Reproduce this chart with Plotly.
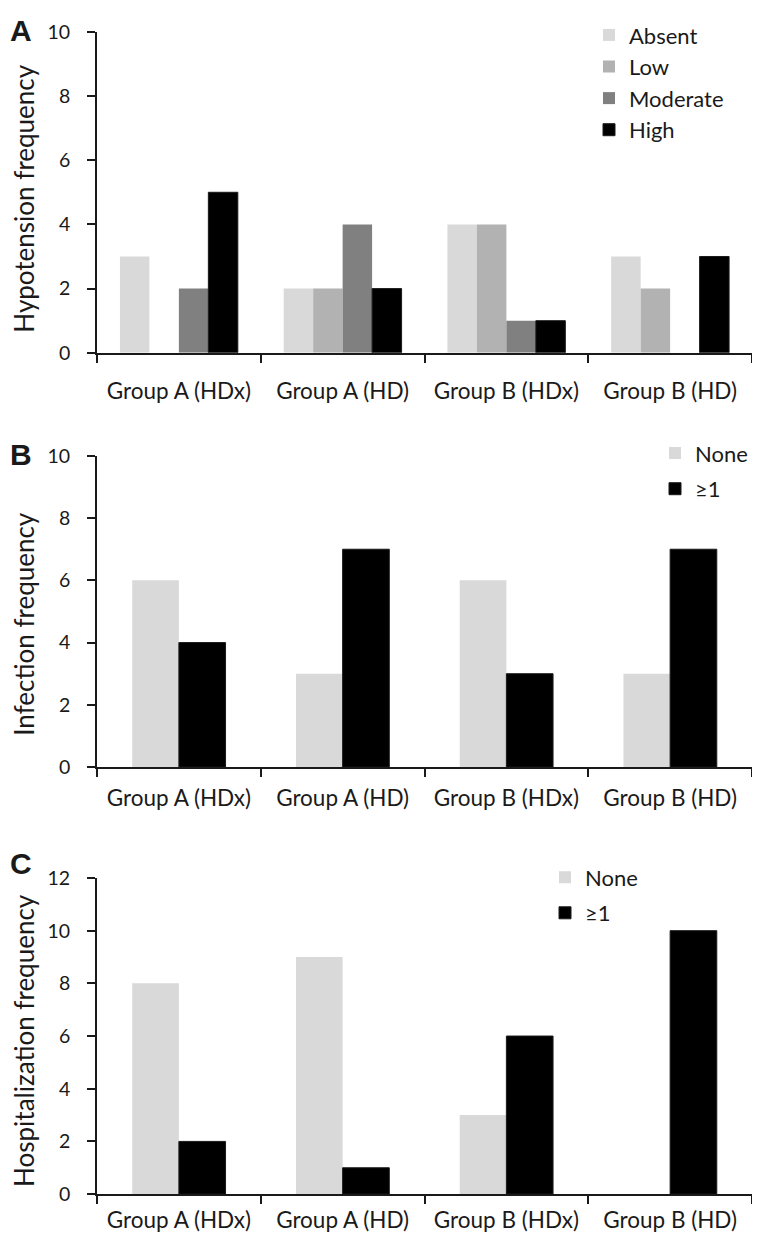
import plotly.graph_objects as go

groups = ["Group A (HDx)", "Group A (HD)", "Group B (HDx)", "Group B (HD)"]

# Panel A: hypotension
hypo_absent = [3, 2, 4, 3]
hypo_low = [0, 2, 4, 2]
hypo_moderate = [2, 4, 1, 0]
hypo_high = [5, 2, 1, 3]

# Panel B: infection
inf_none = [6, 3, 6, 3]
inf_one = [4, 7, 3, 7]

# Panel C: hospitalization
hosp_none = [8, 9, 3, 0]
hosp_one = [2, 1, 6, 10]

W, H = 760, 1256
FONT = "Lato, 'Open Sans', sans-serif"
C_ABS, C_LOW, C_MOD, C_HIGH = "#d9d9d9", "#b2b2b2", "#808080", "#000000"
INK = "#1a1a1a"

def py(px):
    return 1 - px / H

def px_(x):
    return x / W

fig = go.Figure()

def bar(x, y, name, color, xa, ya, leg, line=False, width=None, offset=None):
    fig.add_trace(go.Bar(
        x=x, y=y, name=name, xaxis=xa, yaxis=ya, legend=leg, legendgroup=leg + name,
        width=width, offset=offset,
        marker=dict(color=color, line=dict(color=INK if line else color, width=1 if line else 0)),
    ))

bar(groups, hypo_absent, "Absent", C_ABS, "x", "y", "legend")
bar(groups, hypo_low, "Low", C_LOW, "x", "y", "legend")
bar(groups, hypo_moderate, "Moderate", C_MOD, "x", "y", "legend")
bar(groups, hypo_high, "High", C_HIGH, "x", "y", "legend", True)

bar(groups, inf_none, "None", C_ABS, "x2", "y2", "legend2", width=0.285, offset=-0.285)
bar(groups, inf_one, "≥1", C_HIGH, "x2", "y2", "legend2", True, width=0.285, offset=0.0)

bar(groups, hosp_none, "None", C_ABS, "x3", "y3", "legend3", width=0.285, offset=-0.285)
bar(groups, hosp_one, "≥1", C_HIGH, "x3", "y3", "legend3", True, width=0.285, offset=0.0)

xdom = [px_(89), px_(744)]
# (suffix, top px, bottom px, range, x-label standoff, title, title centre y, letter, letter y)
panels = [
    ("", 12, 339, [0, 10], 17, "Hypotension frequency", 182, "A", 11),
    ("2", 444, 761, [0, 10], 10, "Infection frequency", 615, "B", 443),
    ("3", 874, 1196, [0, 12], 5, "Hospitalization frequency", 1040, "C", 859),
]

tick_font = dict(family=FONT, size=19.5, color=INK)
cat_font = dict(family=FONT, size=22.5, color=INK)
layout = dict(
    width=W, height=H, margin=dict(l=0, r=0, t=0, b=0),
    paper_bgcolor="white", plot_bgcolor="white",
    barmode="group", bargap=0.28, showlegend=True,
    font=dict(family=FONT, size=20, color=INK),
)

for s, top, bot, rng, stand, title, ty, letter, ly in panels:
    layout["xaxis" + s] = dict(
        domain=xdom, anchor="y" + s, type="category",
        showline=True, linecolor=INK, linewidth=1.8,
        ticks="outside", ticklen=8, tickwidth=1.8, tickcolor=INK,
        tickson="boundaries", showgrid=False, zeroline=False,
        tickfont=cat_font, ticklabelstandoff=stand,
    )
    layout["yaxis" + s] = dict(
        domain=[py(bot), py(top)], anchor="x" + s, range=rng, dtick=2,
        showline=True, linecolor=INK, linewidth=1.8,
        ticks="outside", ticklen=8, tickwidth=1.8, tickcolor=INK,
        showgrid=False, zeroline=False, tickfont=tick_font, ticklabelstandoff=13,
    )
    fig.add_annotation(
        text=title, x=px_(16), y=py(ty), xref="paper", yref="paper",
        xanchor="center", yanchor="middle", textangle=-90, showarrow=False,
        font=dict(family=FONT, size=26, color=INK),
    )
    fig.add_annotation(
        text="<b>%s</b>" % letter, x=px_(0), y=py(ly), xref="paper", yref="paper",
        xanchor="left", yanchor="middle", showarrow=False,
        font=dict(family="Liberation Sans, Arial, sans-serif", size=30, color=INK),
    )

fig.update_layout(**layout)

leg_common = dict(
    bgcolor="rgba(0,0,0,0)", borderwidth=0, xanchor="left", yanchor="top",
    font=dict(family=FONT, size=22, color=INK), itemclick=False,
)
fig.update_layout(
    legend=dict(x=px_(581), y=py(-6), tracegroupgap=0, **leg_common),
    legend2=dict(x=px_(647), y=py(420), tracegroupgap=4, **leg_common),
    legend3=dict(x=px_(537), y=py(852), tracegroupgap=4, **leg_common),
)

fig.write_html("out.html")
